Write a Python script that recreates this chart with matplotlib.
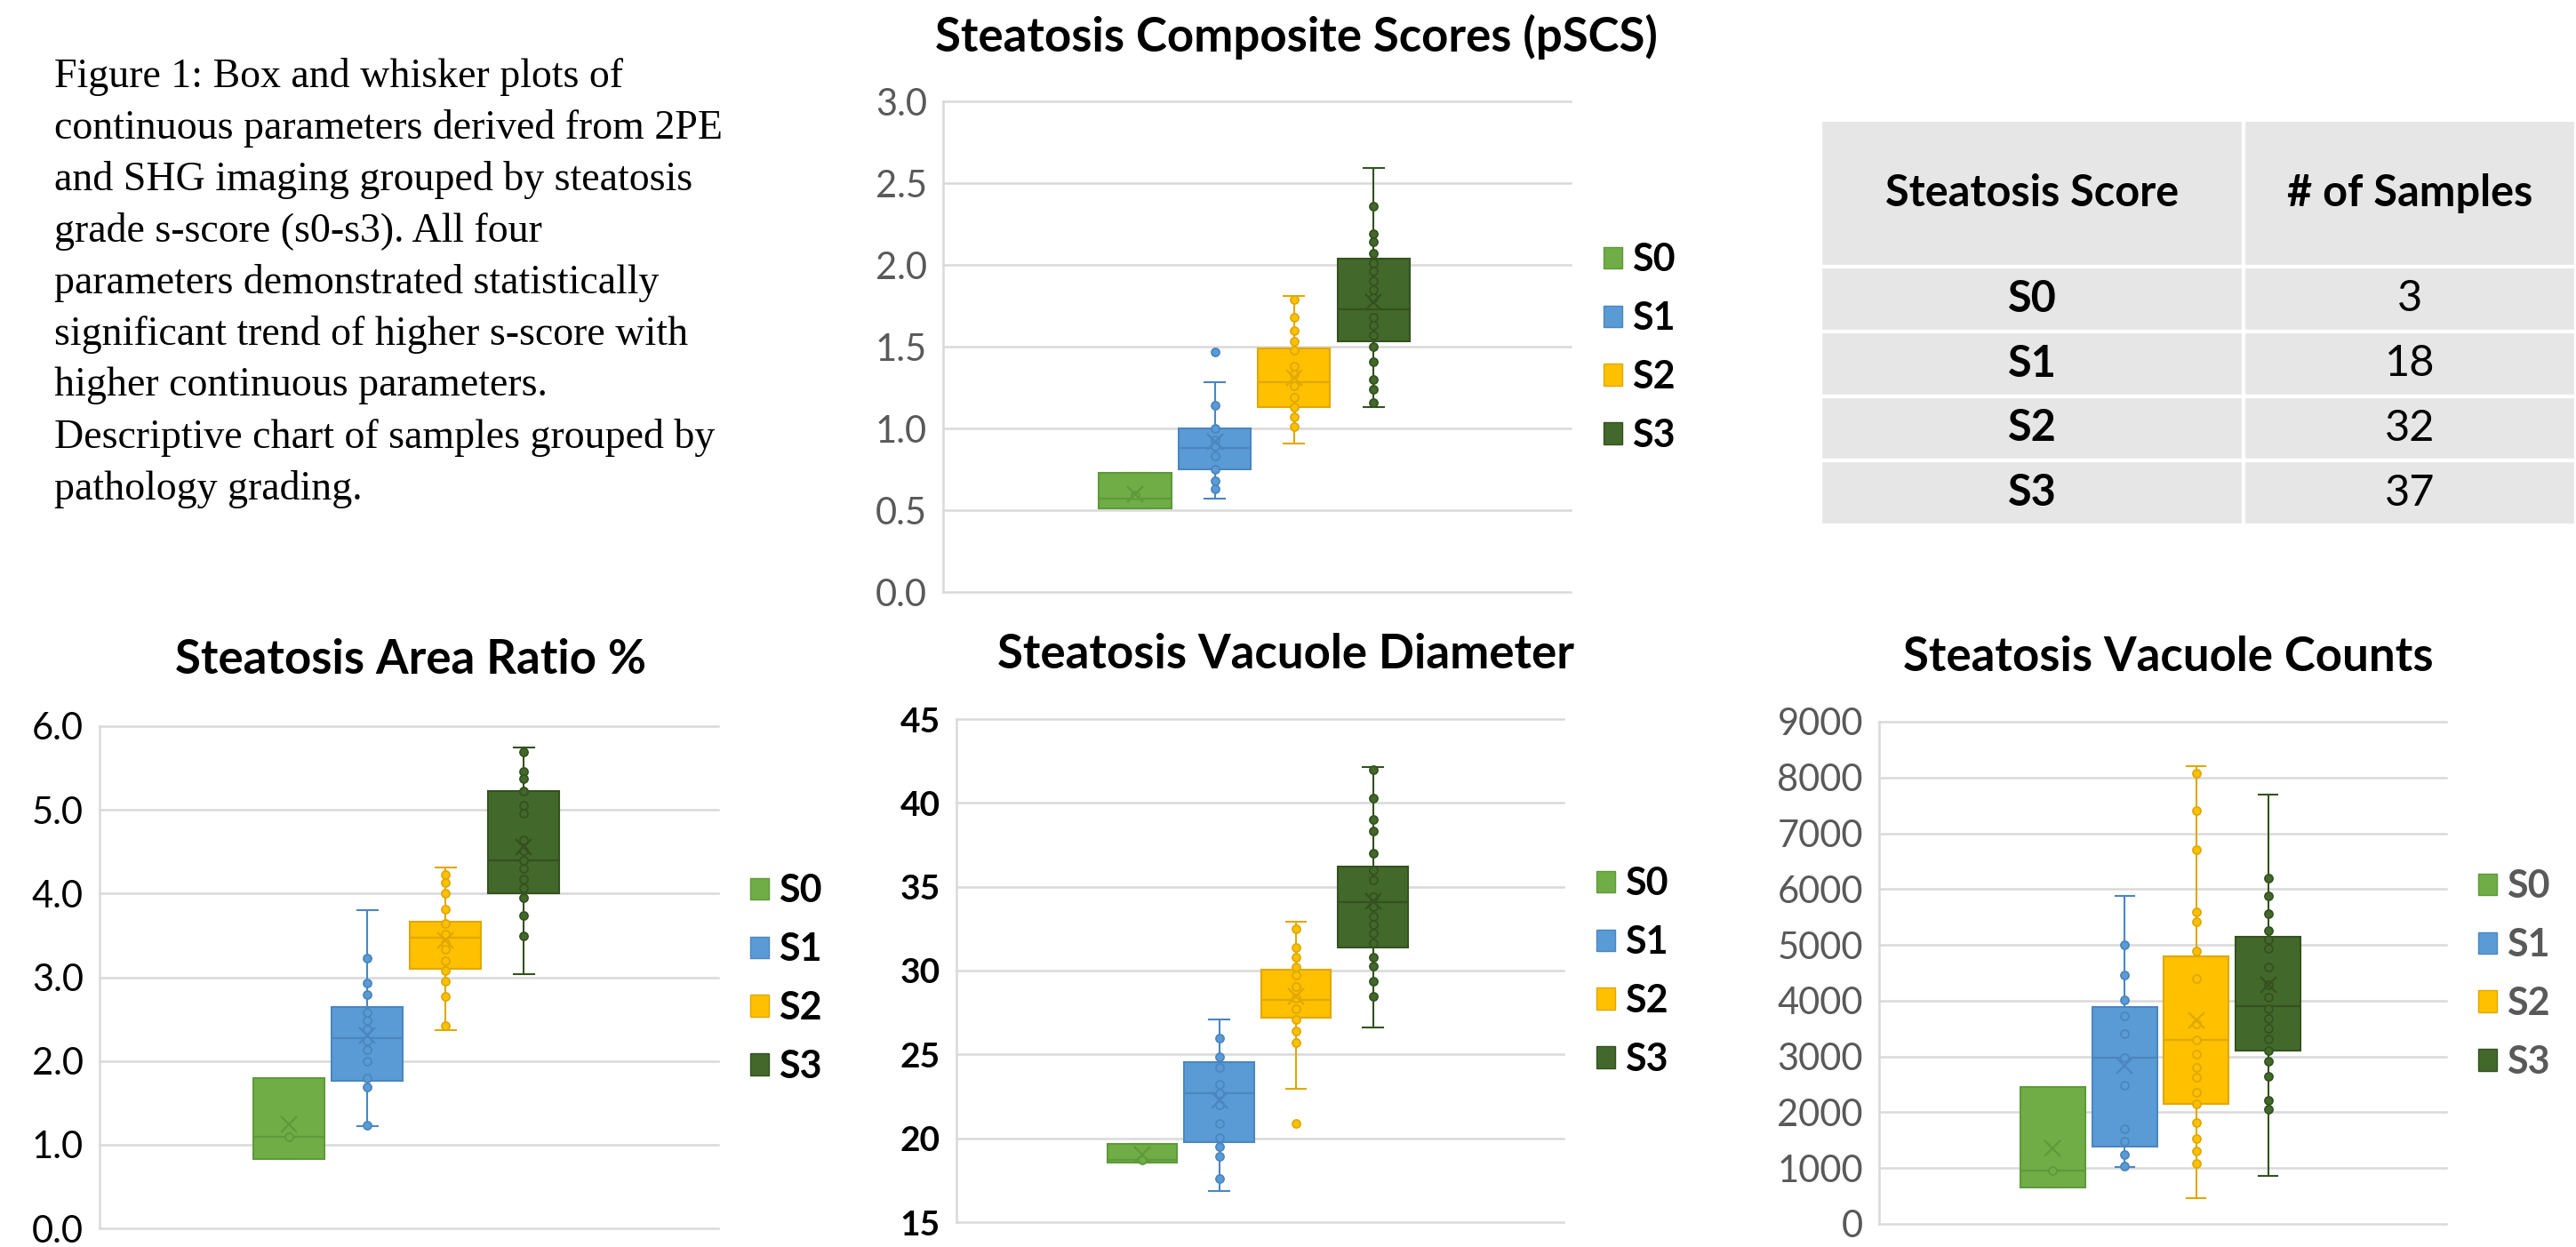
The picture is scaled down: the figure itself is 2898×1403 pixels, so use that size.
import numpy as np
import matplotlib.pyplot as plt
from matplotlib.patches import Patch, Rectangle

# ---- data ----
groups = ['S0', 'S1', 'S2', 'S3']
sample_counts = [3, 18, 32, 37]

pscs_q1 = [0.51, 0.75, 1.13, 1.53]
pscs_med = [0.57, 0.88, 1.28, 1.73]
pscs_q3 = [0.73, 1.00, 1.49, 2.04]
pscs_lo = [0.51, 0.57, 0.91, 1.13]
pscs_hi = [0.73, 1.28, 1.81, 2.59]
pscs_mean = [0.60, 0.92, 1.31, 1.77]
pscs_pts = [[0.59],
            [1.47, 1.14, 1.00, 0.93, 0.89, 0.83, 0.75, 0.68, 0.63],
            [1.79, 1.68, 1.60, 1.53, 1.48, 1.38, 1.33, 1.26, 1.19, 1.13, 1.07, 1.01],
            [2.36, 2.19, 2.14, 2.07, 2.01, 1.96, 1.90, 1.85, 1.80, 1.68, 1.63, 1.57,
             1.50, 1.41, 1.30, 1.24, 1.16]]

area_q1 = [0.83, 1.76, 3.10, 4.00]
area_med = [1.09, 2.27, 3.47, 4.40]
area_q3 = [1.79, 2.64, 3.66, 5.23]
area_lo = [0.83, 1.22, 2.37, 3.04]
area_hi = [1.79, 3.80, 4.31, 5.74]
area_mean = [1.24, 2.30, 3.44, 4.56]
area_pts = [[1.09],
            [3.23, 2.93, 2.79, 2.58, 2.49, 2.38, 2.24, 2.13, 2.00, 1.79, 1.69, 1.23],
            [4.23, 4.13, 4.00, 3.81, 3.64, 3.52, 3.41, 3.33, 3.20, 3.08, 2.95, 2.77, 2.42],
            [5.69, 5.46, 5.37, 5.23, 5.05, 4.96, 4.64, 4.51, 4.40, 4.30, 4.17, 4.07,
             3.95, 3.74, 3.49]]

diam_q1 = [18.55, 19.76, 27.18, 31.37]
diam_med = [18.69, 22.69, 28.25, 34.08]
diam_q3 = [19.64, 24.54, 30.06, 36.18]
diam_lo = [18.55, 16.83, 22.97, 26.63]
diam_hi = [19.64, 27.06, 32.89, 42.12]
diam_mean = [19.04, 22.26, 28.44, 34.15]
diam_pts = [[18.69],
            [25.99, 24.87, 24.23, 23.21, 22.68, 22.02, 20.88, 20.04, 19.52, 18.93, 17.62],
            [32.49, 31.39, 30.80, 30.20, 29.73, 29.04, 28.37, 27.73, 27.09, 26.42, 25.73, 20.88],
            [42.00, 40.27, 39.00, 38.34, 37.00, 36.00, 35.39, 34.39, 33.80, 33.25, 32.73,
             32.20, 31.65, 30.82, 30.27, 29.35, 28.44]]

cnt_q1 = [660, 1390, 2150, 3110]
cnt_med = [950, 2980, 3290, 3910]
cnt_q3 = [2450, 3880, 4790, 5140]
cnt_lo = [660, 1020, 460, 860]
cnt_hi = [2450, 5870, 8200, 7700]
cnt_mean = [1360, 2840, 3650, 4290]
cnt_pts = [[950],
           [5000, 4460, 4010, 3720, 3410, 2980, 2490, 1710, 1480, 1240, 1040],
           [8080, 7400, 6710, 5590, 5410, 4890, 4390, 3590, 3290, 3040, 2810, 2630,
            2360, 2150, 1820, 1530, 1310, 1080],
           [6190, 5870, 5560, 5260, 5090, 4940, 4610, 4280, 4060, 3850, 3680, 3500,
            3310, 3110, 2910, 2640, 2220, 2060]]

caption = ["Figure 1: Box and whisker plots of",
           "continuous parameters derived from 2PE",
           "and SHG imaging grouped by steatosis",
           "grade s-score (s0-s3). All four",
           "parameters demonstrated statistically",
           "significant trend of higher s-score with",
           "higher continuous parameters.",
           "Descriptive chart of samples grouped by",
           "pathology grading."]

# ---- style ----
fills = ['#70AD47', '#5B9BD5', '#FFC000', '#43682B']
edges = ['#5E9A39', '#4A86C0', '#E0A800', '#33521F']
grid_c = '#D9D9D9'
SANS = ['Lato', 'DejaVu Sans']
positions = [0.306, 0.433, 0.559, 0.686]

W, H = 2898, 1403
fig = plt.figure(figsize=(W / 100, H / 100), dpi=100)


def px_axes(x0, y0, x1, y1):
    return fig.add_axes([x0 / W, 1 - y1 / H, (x1 - x0) / W, (y1 - y0) / H])


def box_chart(ax, q1, med, q3, lo, hi, mean, pts, ylim, step, fmt,
              tick_color, tick_bold, leg_color, leg_x, leg_y):
    stats = [dict(med=med[i], q1=q1[i], q3=q3[i], whislo=lo[i], whishi=hi[i],
                  mean=mean[i], fliers=[]) for i in range(4)]
    bp = ax.bxp(stats, positions=positions, widths=0.115, capwidths=0.033,
                patch_artist=True, showmeans=True, showfliers=False)
    for i in range(4):
        bp['boxes'][i].set(facecolor=fills[i], edgecolor=edges[i], linewidth=1.5, zorder=2)
        bp['medians'][i].set(color=edges[i], linewidth=1.6, zorder=3)
        for ln in bp['whiskers'][2 * i:2 * i + 2] + bp['caps'][2 * i:2 * i + 2]:
            ln.set(color=edges[i], linewidth=1.5, zorder=1.5)
        ax.plot([positions[i]] * len(pts[i]), pts[i], 'o', ms=6.5, mfc=fills[i],
                mec=edges[i], mew=1.3, zorder=4)
        bp['means'][i].set(marker='x', markeredgecolor=edges[i], markersize=13,
                           markeredgewidth=1.6, zorder=5)
    ticks = np.arange(ylim[0], ylim[1] + step / 2, step)
    ax.set_xlim(0, 1)
    ax.set_ylim(*ylim)
    ax.set_yticks(ticks)
    ax.set_yticklabels([fmt % v for v in ticks])
    ax.set_xticks([])
    ax.yaxis.grid(True, color=grid_c, linewidth=1.8)
    for gl in ax.get_ygridlines():
        gl.set_clip_on(False)
    ax.set_axisbelow(True)
    for s in ['top', 'right', 'bottom']:
        ax.spines[s].set_visible(False)
    ax.spines['left'].set_color(grid_c)
    ax.spines['left'].set_linewidth(1.8)
    ax.tick_params(axis='y', length=0, pad=13, labelsize=28 if tick_bold else 30,
                   labelcolor=tick_color)
    for t in ax.get_yticklabels():
        t.set_family(SANS)
        if tick_bold:
            t.set_fontweight('bold')
    handles = [Patch(facecolor=fills[i], edgecolor=edges[i], label=groups[i]) for i in range(4)]
    leg = ax.legend(handles=handles, loc='center left', frameon=False,
                    bbox_to_anchor=(leg_x / W, 1 - leg_y / H), bbox_transform=fig.transFigure,
                    prop=dict(family=SANS, weight='bold', size=31),
                    handlelength=0.49, handleheight=0.49, handletextpad=0.25,
                    labelspacing=0.6, borderpad=0, borderaxespad=0)
    for t in leg.get_texts():
        t.set_color(leg_color)


def title(x, y, s):
    fig.text(x / W, 1 - y / H, s, ha='center', va='center', family=SANS,
             weight='bold', size=38)


# top: composite score
ax1 = px_axes(1061, 114, 1767, 666)
box_chart(ax1, pscs_q1, pscs_med, pscs_q3, pscs_lo, pscs_hi, pscs_mean, pscs_pts,
          (0, 3), 0.5, '%.1f', '#595959', False, 'black', 1804, 391)
title(1458, 41, 'Steatosis Composite Scores (pSCS)')

# bottom left: area ratio
ax2 = px_axes(112, 817, 808, 1382)
box_chart(ax2, area_q1, area_med, area_q3, area_lo, area_hi, area_mean, area_pts,
          (0, 6), 1.0, '%.1f', 'black', False, 'black', 844, 1101)
title(462, 743, 'Steatosis Area Ratio %')

# bottom middle: vacuole diameter
ax3 = px_axes(1076, 809, 1759, 1375)
box_chart(ax3, diam_q1, diam_med, diam_q3, diam_lo, diam_hi, diam_mean, diam_pts,
          (15, 45), 5, '%d', 'black', True, 'black', 1796, 1093)
title(1447, 736, 'Steatosis Vacuole Diameter')

# bottom right: vacuole counts
ax4 = px_axes(2114, 812, 2752, 1377)
box_chart(ax4, cnt_q1, cnt_med, cnt_q3, cnt_lo, cnt_hi, cnt_mean, cnt_pts,
          (0, 9000), 1000, '%d', '#595959', False, '#595959', 2788, 1096)
title(2439, 740, 'Steatosis Vacuole Counts')

# caption
for k, line in enumerate(caption):
    fig.text(61 / W, 1 - (86 + 58 * k) / H, line, ha='left', va='center',
             family=['Liberation Serif', 'DejaVu Serif'], size=33)

# sample count table
axt = px_axes(2048, 135, 2898, 591)
axt.set_xlim(0, 1)
axt.set_ylim(1, 0)
axt.axis('off')
col_edges = [0, 0.56, 1]
row_edges = [0, 0.362] + [0.362 + 0.1595 * (r + 1) for r in range(4)]
cells = [['Steatosis Score', '# of Samples']] + [[g, str(n)] for g, n in zip(groups, sample_counts)]
for r in range(5):
    for c in range(2):
        x0, x1 = col_edges[c], col_edges[c + 1]
        y0, y1 = row_edges[r], row_edges[r + 1]
        axt.add_patch(Rectangle((x0, y0), x1 - x0, y1 - y0, facecolor='#E7E6E6',
                                edgecolor='white', linewidth=3))
        bold = (r == 0) or (c == 0)
        axt.text((x0 + x1) / 2, (y0 + y1) / 2, cells[r][c], ha='center', va='center',
                 family=SANS, weight='bold' if bold else 'normal', size=35, color='black')

fig.savefig('out.png', dpi=100)
